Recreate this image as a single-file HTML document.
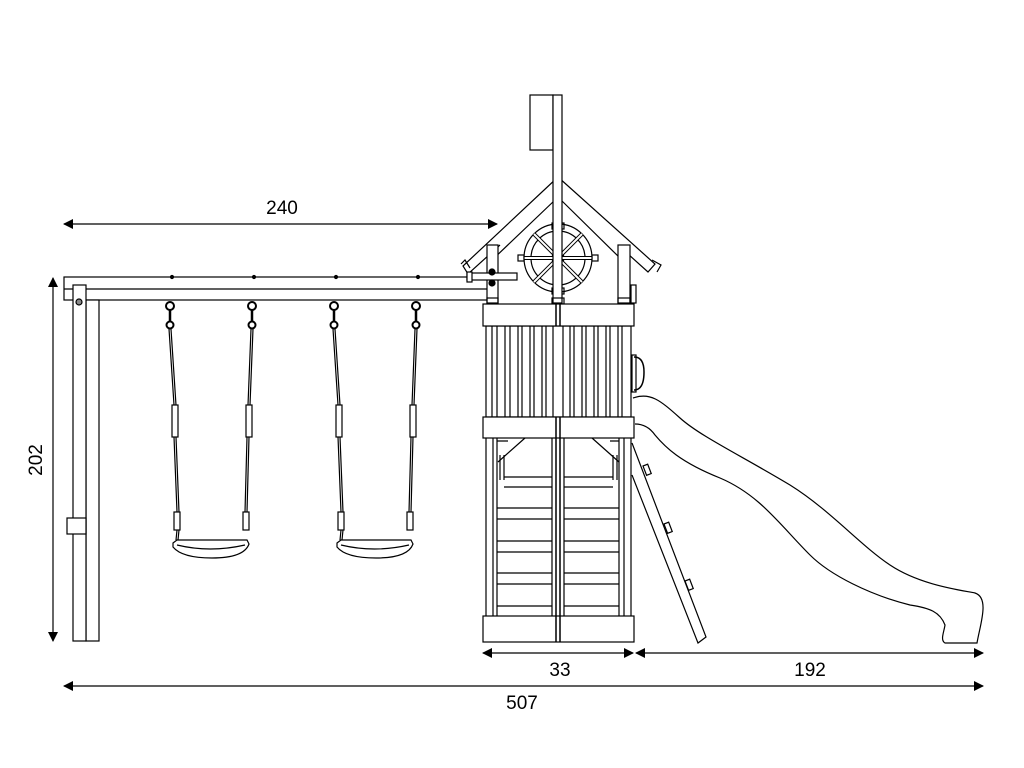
<!DOCTYPE html>
<html><head><style>html,body{margin:0;padding:0;background:#fff}svg{display:block}</style></head><body>
<svg width="1024" height="768" viewBox="0 0 1024 768" xmlns="http://www.w3.org/2000/svg" font-family="Liberation Sans, sans-serif">
<defs>
<marker id="a" markerWidth="10" markerHeight="10" refX="9" refY="5" orient="auto-start-reverse" markerUnits="userSpaceOnUse"><path d="M0,0 L10,5 L0,10 z" fill="#000"/></marker>
</defs>
<g fill="none" stroke="#000" stroke-width="1.2">
<!-- dimensions -->
<line x1="64" y1="224" x2="497" y2="224" marker-start="url(#a)" marker-end="url(#a)"/>
<line x1="53" y1="278" x2="53" y2="641" marker-start="url(#a)" marker-end="url(#a)"/>
<line x1="483" y1="653" x2="633" y2="653" marker-start="url(#a)" marker-end="url(#a)"/>
<line x1="636" y1="653" x2="983" y2="653" marker-start="url(#a)" marker-end="url(#a)"/>
<line x1="64" y1="686" x2="983" y2="686" marker-start="url(#a)" marker-end="url(#a)"/>

<!-- beam -->
<rect x="64" y="277" width="425" height="23" fill="#fff"/>
<line x1="64" y1="289" x2="489" y2="289"/>
<rect x="86" y="300" width="13" height="341" fill="#fff"/>
<rect x="73" y="285" width="13" height="356" fill="#fff"/>
<circle cx="79" cy="302" r="3" fill="#888"/>
<rect x="67" y="518" width="19" height="16" fill="#fff"/>
<circle cx="172" cy="277" r="1.5" fill="#000"/><circle cx="254" cy="277" r="1.5" fill="#000"/><circle cx="336" cy="277" r="1.5" fill="#000"/><circle cx="418" cy="277" r="1.5" fill="#000"/>

<!-- swings -->
<g>
<circle cx="170" cy="306" r="4" stroke-width="2"/><circle cx="170" cy="325" r="3.5" stroke-width="2"/>
<line x1="170" y1="310" x2="170" y2="322" stroke-width="2.5"/>
<path d="M169,329 L174,405 M171,329 L176,405 M174,437 L177,512 M176,437 L179,512"/>
<rect x="172" y="405" width="6" height="32"/><rect x="174" y="512" width="6" height="18"/>
<path d="M177,530 L176,540 M179,530 L178,540"/>
<circle cx="252" cy="306" r="4" stroke-width="2"/><circle cx="252" cy="325" r="3.5" stroke-width="2"/>
<line x1="252" y1="310" x2="252" y2="322" stroke-width="2.5"/>
<path d="M251,329 L248,405 M253,329 L250,405 M247,437 L245,512 M249,437 L247,512"/>
<rect x="246" y="405" width="6" height="32"/><rect x="243" y="512" width="6" height="18"/>
<path d="M173,543 L177,540 L247,540 L249,544 Q244,558 212,558 Q182,558 173,547 Z"/>
<path d="M177,545 Q210,553 245,545"/>
</g>
<g transform="translate(164,0)">
<circle cx="170" cy="306" r="4" stroke-width="2"/><circle cx="170" cy="325" r="3.5" stroke-width="2"/>
<line x1="170" y1="310" x2="170" y2="322" stroke-width="2.5"/>
<path d="M169,329 L174,405 M171,329 L176,405 M174,437 L177,512 M176,437 L179,512"/>
<rect x="172" y="405" width="6" height="32"/><rect x="174" y="512" width="6" height="18"/>
<path d="M177,530 L176,540 M179,530 L178,540"/>
<circle cx="252" cy="306" r="4" stroke-width="2"/><circle cx="252" cy="325" r="3.5" stroke-width="2"/>
<line x1="252" y1="310" x2="252" y2="322" stroke-width="2.5"/>
<path d="M251,329 L248,405 M253,329 L250,405 M247,437 L245,512 M249,437 L247,512"/>
<rect x="246" y="405" width="6" height="32"/><rect x="243" y="512" width="6" height="18"/>
<path d="M173,543 L177,540 L247,540 L249,544 Q244,558 212,558 Q182,558 173,547 Z"/>
<path d="M177,545 Q210,553 245,545"/>
</g>

<!-- slide -->
<path d="M633,398 C650,392 660,400 680,418 C700,436 740,455 790,485 C830,510 860,545 890,565 C920,585 960,590 975,593 C990,598 980,625 977,643 L945,643 C940,640 944,632 945,625 C940,612 930,608 910,605 C870,595 830,575 810,555 C780,525 760,495 720,478 C680,462 665,447 655,435 C648,425 640,424 635,424"/>
<!-- ladder -->
<path d="M632,443 L706,637 L698,643 L632,475"/>
<rect x="0" y="0" width="5" height="10" transform="translate(643,466) rotate(-21)"/>
<rect x="0" y="0" width="5" height="10" transform="translate(664,524) rotate(-21)"/>
<rect x="0" y="0" width="5" height="10" transform="translate(685,581) rotate(-21)"/>

<!-- roof -->
<path d="M558,177 L463,266 L468,274 L500,245 M558,177 L655,264 L648,272 L618,245"/>
<path d="M555,200 L490,262 M561,200 L622,260"/>
<path d="M461,264 L465,260 L470,268"/>
<path d="M652,260 L661,265 L657,272"/>
<rect x="487" y="245" width="11" height="58" fill="#fff"/>
<rect x="618" y="245" width="12" height="58" fill="#fff"/>
<rect x="631" y="285" width="5" height="18"/>
<!-- wheel -->
<circle cx="558" cy="258" r="34"/><circle cx="558" cy="258" r="27"/><circle cx="558" cy="258" r="6"/>
<path d="M558,224 L558,292 M524,258 L592,258 M534,234 L582,282 M582,234 L534,282" stroke-width="4"/>
<path d="M558,224 L558,292 M524,258 L592,258 M534,234 L582,282 M582,234 L534,282" stroke="#fff" stroke-width="2"/>
<rect x="552" y="223" width="12" height="6"/><rect x="552" y="288" width="12" height="6"/>
<rect x="518" y="255" width="6" height="6"/><rect x="592" y="255" width="6" height="6"/>
<!-- handle left -->
<rect x="467" y="273" width="50" height="7" fill="#fff"/>
<rect x="467" y="272" width="5" height="10" fill="#fff"/>
<circle cx="492" cy="272" r="3" fill="#000"/><circle cx="492" cy="283" r="3" fill="#000"/>
<!-- flag -->
<rect x="530" y="95" width="23" height="55" fill="#fff"/>
<rect x="553" y="95" width="9" height="208" fill="#fff"/>
<rect x="552" y="298" width="12" height="6"/>
<rect x="487" y="298" width="11" height="6"/><rect x="618" y="298" width="12" height="6"/>

<!-- tower -->
<rect x="486" y="326" width="145" height="91" fill="#fff"/>
<g>
<path d="M492,326V417 M497,326V417 M505,326V417 M510,326V417 M518,326V417 M522,326V417 M530,326V417 M534,326V417 M542,326V417 M546,326V417 M553,326V417 M563,326V417 M570,326V417 M574,326V417 M582,326V417 M586,326V417 M594,326V417 M598,326V417 M606,326V417 M610,326V417 M618,326V417 M622,326V417"/>
</g>
<rect x="483" y="304" width="151" height="22" fill="#fff"/>
<rect x="483" y="417" width="151" height="21" fill="#fff"/>
<path d="M556,304V326 M560,304V326 M556,417V438 M560,417V438" stroke-width="1.5"/>
<!-- lower -->
<path d="M486,438V616 M493,438V616 M497,438V616 M552,438V616 M564,438V616 M619,438V616 M624,438V616 M631,438V616"/>
<path d="M556,438V642 M560,438V642" stroke-width="1.5"/>
<path d="M500,455V480 M504,455V480 M613,455V480 M617,455V480"/>
<path d="M498,462 L525,438 M619,462 L592,438"/>
<path d="M497,441 H508 M610,441 H619"/>
<path d="M504,477H552 M504,487H552 M497,508H552 M497,519H552 M497,541H552 M497,552H552 M497,573H552 M497,584H552 M497,606H552 M564,477H613 M564,487H613 M564,508H619 M564,519H619 M564,541H619 M564,552H619 M564,573H619 M564,584H619 M564,606H619"/>
<rect x="483" y="616" width="151" height="26" fill="#fff"/>
<path d="M556,616V642 M560,616V642" stroke-width="1.5"/>
<!-- right handle -->
<path d="M634,357 Q644,357 644,372 Q644,390 634,390" stroke-width="1.5"/>
<rect x="632" y="355" width="4" height="37"/>
</g>
<g font-size="19" fill="#000" text-anchor="middle">
<text x="282" y="214">240</text>
<text x="560" y="676">33</text>
<text x="810" y="676">192</text>
<text x="522" y="709">507</text>
<text transform="translate(42,460) rotate(-90)">202</text>
</g>
</svg>
</body></html>
